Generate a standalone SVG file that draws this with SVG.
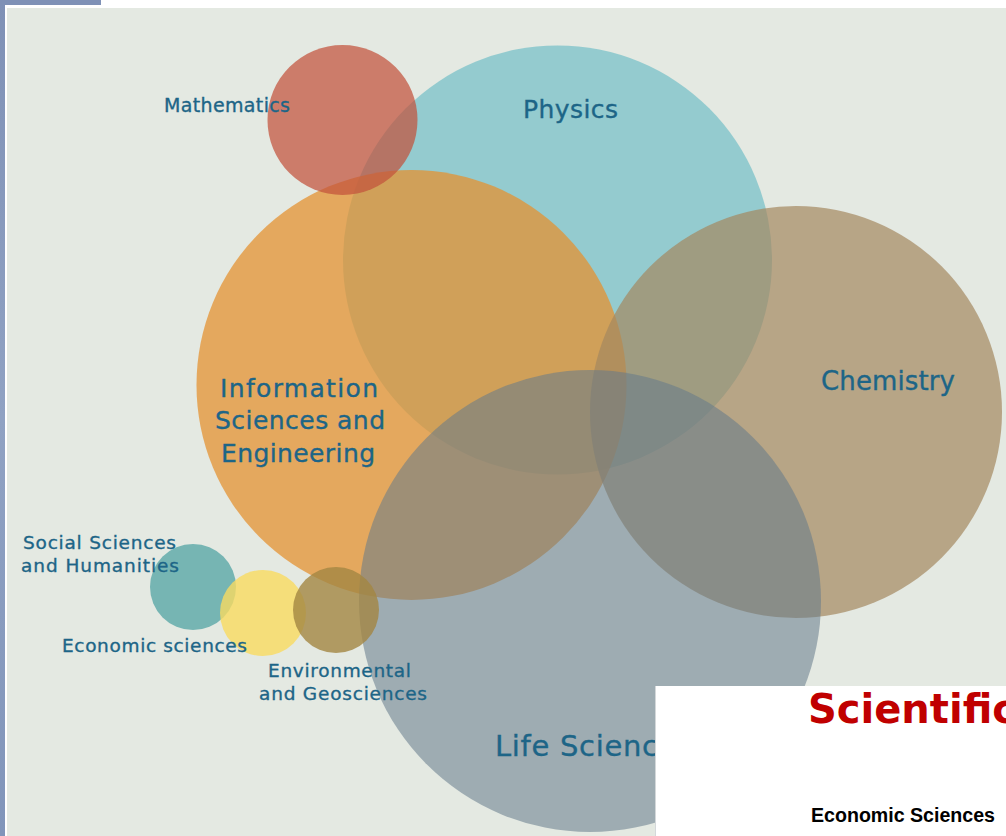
<svg xmlns="http://www.w3.org/2000/svg" width="1006" height="836" viewBox="0 0 1006 836">
  <defs>
    <linearGradient id="blueEdge" x1="0" y1="0" x2="0" y2="1">
      <stop offset="0" stop-color="#7f91b6"/>
      <stop offset="0.5" stop-color="#90a2c3"/>
      <stop offset="1" stop-color="#8195ba"/>
    </linearGradient>
  </defs>
  <style>
    .lbl { font-family: "DejaVu Sans", Verdana, sans-serif; fill: #1d6587; stroke: #1d6587; stroke-width: 0.35px; }
    .circ { stroke: none; }
  </style>
  <rect x="0" y="0" width="1006" height="836" fill="#ffffff"/>
  <rect x="0" y="0" width="5" height="836" fill="url(#blueEdge)"/>
  <rect x="0" y="0" width="101" height="5" fill="#7f91b6"/>
  <rect id="panel" x="7" y="8" width="999" height="828" fill="#e4e9e2"/>

  <g id="physics">
    <circle class="circ" cx="557.5" cy="260" r="214.5" fill="rgb(126,195,201)" fill-opacity="0.78"/>
    <text class="lbl" x="523" y="118" font-size="25" textLength="95" lengthAdjust="spacing">Physics</text>
  </g>
  <g id="information">
    <circle class="circ" cx="411.5" cy="385" r="215" fill="rgb(228,145,50)" fill-opacity="0.75"/>
  </g>
  <g id="mathematics">
    <circle class="circ" cx="342.5" cy="120" r="75" fill="rgb(194,82,60)" fill-opacity="0.72"/>
    <text class="lbl" x="164" y="112" font-size="19" textLength="126" lengthAdjust="spacing">Mathematics</text>
  </g>
  <g id="chemistry">
    <circle class="circ" cx="796" cy="412" r="206" fill="rgb(164,136,95)" fill-opacity="0.7"/>
  </g>
  <g id="life">
    <circle class="circ" cx="590" cy="601" r="231" fill="rgb(101,122,139)" fill-opacity="0.55"/>
  </g>
  <g id="social">
    <circle class="circ" cx="193" cy="587" r="43" fill="rgb(90,168,168)" fill-opacity="0.8"/>
  </g>
  <g id="economic">
    <circle class="circ" cx="263" cy="613" r="43" fill="rgb(249,219,96)" fill-opacity="0.8"/>
  </g>
  <g id="environmental">
    <circle class="circ" cx="336" cy="610" r="43" fill="rgb(163,134,66)" fill-opacity="0.8"/>
  </g>

  <g id="labels">
    <text class="lbl" x="220" y="397" font-size="25" textLength="158" lengthAdjust="spacing">Information</text>
    <text class="lbl" x="215" y="429" font-size="25" textLength="170" lengthAdjust="spacing">Sciences and</text>
    <text class="lbl" x="221" y="462" font-size="25" textLength="154" lengthAdjust="spacing">Engineering</text>
    <text class="lbl" x="821" y="390" font-size="26" textLength="134" lengthAdjust="spacing">Chemistry</text>
    <text class="lbl" x="495" y="756" font-size="29" textLength="163" lengthAdjust="spacing">Life Scienc</text>
    <text class="lbl" x="23" y="549" font-size="18.5" textLength="153" lengthAdjust="spacing">Social Sciences</text>
    <text class="lbl" x="21" y="572" font-size="18.5" textLength="158" lengthAdjust="spacing">and Humanities</text>
    <text class="lbl" x="62" y="652" font-size="18.5" textLength="185" lengthAdjust="spacing">Economic sciences</text>
    <text class="lbl" x="268" y="677" font-size="18.5" textLength="143" lengthAdjust="spacing">Environmental</text>
    <text class="lbl" x="259" y="700" font-size="18.5" textLength="168" lengthAdjust="spacing">and Geosciences</text>
  </g>

  <g id="slide-panel">
    <rect x="655" y="686" width="351" height="150" fill="#ffffff"/>
    <line x1="655.5" y1="686" x2="655.5" y2="836" stroke="#d4d8da" stroke-width="1"/>
    <text x="808" y="723" font-family="'DejaVu Sans', Verdana, sans-serif" font-weight="bold" font-size="40" fill="#c00000">Scientific</text>
    <text x="811" y="822" font-family="'Liberation Sans', Arial, sans-serif" font-weight="bold" font-size="19.5" fill="#000000" textLength="184" lengthAdjust="spacingAndGlyphs">Economic Sciences</text>
  </g>
</svg>
